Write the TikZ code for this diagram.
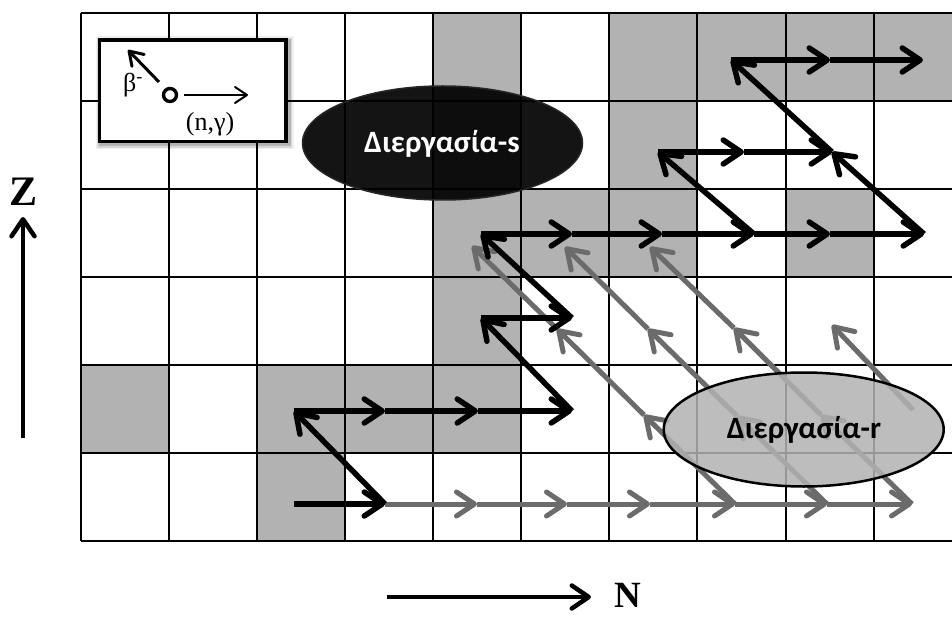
\documentclass[tikz,border=0pt]{standalone}
\usepackage{fontspec}
\setmainfont{Liberation Serif}
\newfontfamily\calibfont{Carlito}
\usetikzlibrary{arrows.meta,shapes.geometric}
\definecolor{cellgray}{gray}{0.70}
\definecolor{arrgray}{gray}{0.42}
\definecolor{ellgray}{gray}{0.70}
\begin{document}
\begin{tikzpicture}[x=1pt,y=-1pt,
  gridline/.style={line width=2pt,black},
  blk/.style={line width=5.5pt,black,-{Straight Barb[length=18pt,width=24pt,round]}},
  gry/.style={line width=5pt,arrgray,-{Straight Barb[length=18pt,width=24pt,round]}},
  axisarrow/.style={line width=4.5pt,black,-{Straight Barb[length=17pt,width=23pt,round]}},
  procell/.style={ellipse,minimum width=280pt,minimum height=114pt,inner sep=0pt},
  proctext/.style={anchor=base,font=\calibfont\bfseries\fontsize{31}{31}\selectfont},
  axislabel/.style={font=\bfseries\fontsize{42}{42}\selectfont,inner sep=0pt},
  insettext/.style={font=\fontsize{26}{26}\selectfont,inner sep=0pt}
]
\useasboundingbox (0,0) rectangle (952,617);
\clip (0,0) rectangle (952,617);
\fill[white] (0,0) rectangle (952,617);
% shaded cells
\foreach \k/\r in {4/0,6/0,7/0,8/0,9/0,4/1,6/1,4/2,5/2,6/2,8/2,4/3,0/4,2/4,3/4,4/4,2/5}
  \fill[cellgray] ({80.7+88.1*\k},{12.7+88.05*\r}) rectangle +(88.1,88.05);
% grid
\foreach \k in {0,...,9}
  \draw[gridline] ({80.7+88.1*\k},12.7) -- ({80.7+88.1*\k},541);
\foreach \r in {0,...,6}
  \draw[gridline] (80.7,{12.7+88.05*\r}) -- (960,{12.7+88.05*\r});
% black s-process path points
\coordinate (b1) at (294,504);
\coordinate (b2) at (385,504);
\coordinate (b3) at (294,411);
\coordinate (b4) at (385,411);
\coordinate (b5) at (478,411);
\coordinate (b6) at (572,411);
\coordinate (b7) at (481,318);
\coordinate (b8) at (572,318);
\coordinate (b9) at (481,234);
\coordinate (b10) at (572,234);
\coordinate (b11) at (662,234);
\coordinate (b12) at (754,234);
\coordinate (b13) at (830,234);
\coordinate (b14) at (924,234);
\coordinate (b15) at (658,152);
\coordinate (b16) at (744,152);
\coordinate (b17) at (832,152);
\coordinate (b18) at (731,60);
\coordinate (b19) at (830,60);
\coordinate (b20) at (923,60);
% gray r-process points
\coordinate (h1) at (477,504);
\coordinate (h2) at (567,504);
\coordinate (h3) at (650,504);
\coordinate (h4) at (735,504);
\coordinate (h5) at (827,504);
\coordinate (h6) at (912,504);
\coordinate (d1) at (644,415);
\coordinate (d2) at (557,329);
\coordinate (d3) at (472,246);
\coordinate (a1) at (737,416);
\coordinate (a2) at (648,329);
\coordinate (a3) at (565,247);
\coordinate (c1) at (821,415);
\coordinate (c2) at (734,328);
\coordinate (c3) at (650,247);
\coordinate (e0) at (913,410);
\coordinate (e1) at (832,325);
% gray arrows
\draw[gry] (b2) -- (h1);
\draw[gry] (h1) -- (h2);
\draw[gry] (h2) -- (h3);
\draw[gry] (h3) -- (h4);
\draw[gry] (h4) -- (h5);
\draw[gry] (h5) -- (h6);
\draw[gry] (h4) -- (d1);
\draw[gry] (d1) -- (d2);
\draw[gry] (d2) -- (d3);
\draw[gry] (h5) -- (a1);
\draw[gry] (a1) -- (a2);
\draw[gry] (a2) -- (a3);
\draw[gry] (h6) -- (c1);
\draw[gry] (c1) -- (c2);
\draw[gry] (c2) -- (c3);
\draw[gry] (e0) -- (e1);
% black arrows
\draw[blk] (b1) -- (b2);
\draw[blk] (b2) -- (b3);
\draw[blk] (b3) -- (b4);
\draw[blk] (b4) -- (b5);
\draw[blk] (b5) -- (b6);
\draw[blk] (b6) -- (b7);
\draw[blk] (b7) -- (b8);
\draw[blk] (b8) -- (b9);
\draw[blk] (b9) -- (b10);
\draw[blk] (b10) -- (b11);
\draw[blk] (b11) -- (b12);
\draw[blk] (b12) -- (b13);
\draw[blk] (b13) -- (b14);
\draw[blk] (b12) -- (b15);
\draw[blk] (b15) -- (b16);
\draw[blk] (b16) -- (b17);
\draw[blk] (b14) -- (b17);
\draw[blk] (b17) -- (b18);
\draw[blk] (b18) -- (b19);
\draw[blk] (b19) -- (b20);
% process ellipses
\node[procell,fill=black,fill opacity=0.92,draw=black!85,line width=1.5pt] (es) at (442.5,143) {};
\node[proctext,text=white] (ts) at (442,153) {Διεργασία-s};
\node[procell,fill=ellgray,fill opacity=0.85,draw=black,line width=2.5pt] (er) at (803.7,429.5) {};
\node[proctext,text=black] (tr) at (804,438.5) {Διεργασία-r};
% inset legend
\foreach \w/\o in {11/0.06,8/0.10,5/0.16}
  \draw[line width=\w pt,black,opacity=\o] (101,42) rectangle (288,143.7);
\draw[line width=3.2pt,fill=white] (99.3,40) rectangle (286,141.7);
\node[draw,circle,line width=3.4pt,minimum size=13pt,inner sep=0pt] (nuc) at (170,95) {};
\coordinate (ng) at (248,95);
\coordinate (bm) at (128,50);
\draw[line width=2pt,-{Straight Barb[length=12pt,width=16pt,round]}] (nuc.east) ++(6,0) -- (ng);
\draw[line width=3pt,-{Straight Barb[length=13pt,width=17pt,round]}] (159,82) -- (bm);
\node[insettext] (lb) at (133,85) {β\textsuperscript{-}};
\node[insettext] (ln) at (210,124) {(n,γ)};
% axes
\coordinate (zb) at (23,438);
\coordinate (zt) at (23,217);
\draw[axisarrow] (zb) -- (zt);
\node[axislabel] (zl) at (24,192) {Z};
\coordinate (nb) at (387,597);
\coordinate (nt) at (591,597);
\draw[axisarrow] (nb) -- (nt);
\node[axislabel,font=\bfseries\fontsize{37}{37}\selectfont] (nl) at (628,595) {N};
\end{tikzpicture}
\end{document}
